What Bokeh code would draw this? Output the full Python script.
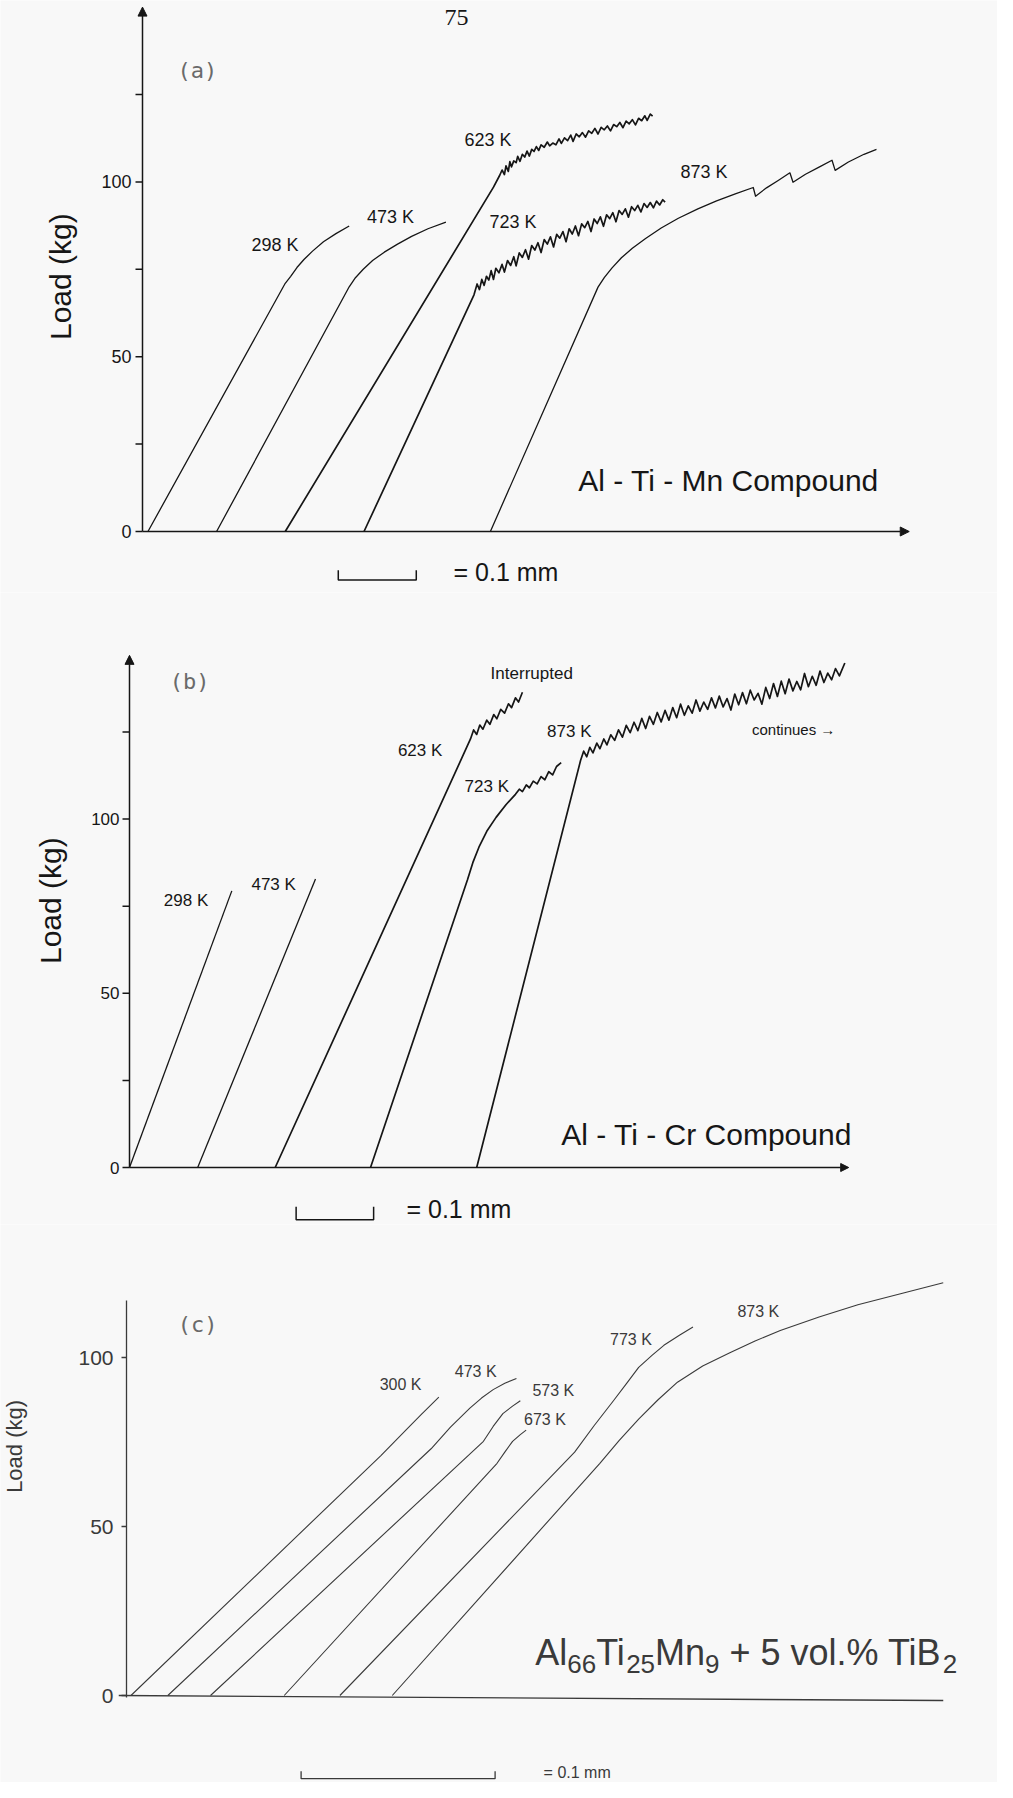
import numpy as np
from bokeh.plotting import figure
from bokeh.layouts import column
from bokeh.models import Range1d, Arrow, NormalHead
from bokeh.core.properties import value
from bokeh.embed import file_html
from bokeh.resources import INLINE

# ---------------- data: panel (a) Al-Ti-Mn compound  (displacement mm, load kg)
a298 = [(0.007, 0), (0.183, 71.0), (0.190, 73.0), (0.198, 75.5), (0.207, 77.8), (0.218, 80.2),
        (0.232, 82.9), (0.248, 85.2), (0.265, 87.4)]
a473 = [(0.095, 0), (0.265, 70.0), (0.273, 72.6), (0.283, 75.0), (0.295, 77.5), (0.310, 79.9),
        (0.327, 82.2), (0.345, 84.4), (0.366, 86.6), (0.389, 88.5)]
a623 = [(0.183, 0), (0.450, 98.5), (0.458, 101.9), (0.461, 103.4), (0.464, 102.1), (0.466, 104.6),
        (0.469, 103.0), (0.471, 105.8), (0.473, 104.3), (0.476, 106.0), (0.479, 105.5), (0.481, 107.3),
        (0.484, 105.9), (0.487, 107.9), (0.490, 107.1), (0.493, 108.8), (0.496, 107.4), (0.499, 109.3),
        (0.502, 108.7), (0.505, 110.1), (0.508, 109.0), (0.511, 110.6), (0.515, 109.9), (0.519, 111.4),
        (0.522, 110.3), (0.526, 111.1), (0.530, 110.6), (0.534, 112.3), (0.537, 111.0), (0.541, 112.6),
        (0.545, 111.8), (0.549, 113.4), (0.552, 111.6), (0.556, 113.7), (0.560, 112.9), (0.564, 114.1),
        (0.568, 112.8), (0.572, 114.6), (0.576, 113.9), (0.580, 115.3), (0.584, 113.7), (0.588, 115.6),
        (0.592, 114.9), (0.596, 116.0), (0.600, 114.6), (0.604, 116.4), (0.608, 115.8), (0.612, 117.0),
        (0.616, 115.5), (0.620, 117.4), (0.624, 116.6), (0.628, 117.8), (0.632, 116.3), (0.636, 118.2),
        (0.640, 117.5), (0.644, 118.9), (0.647, 117.6), (0.651, 119.4), (0.654, 118.8)]
a723 = [(0.284, 0), (0.425, 67.7), (0.429, 70.8), (0.432, 69.2), (0.435, 72.1), (0.438, 70.4),
        (0.441, 73.0), (0.444, 71.9), (0.447, 74.6), (0.450, 72.1), (0.453, 75.3), (0.457, 74.0),
        (0.461, 76.4), (0.464, 74.2), (0.468, 77.5), (0.472, 76.1), (0.476, 78.6), (0.479, 76.0),
        (0.483, 79.7), (0.487, 78.4), (0.491, 80.6), (0.495, 77.9), (0.499, 81.8), (0.503, 80.5),
        (0.507, 82.6), (0.511, 79.8), (0.515, 83.5), (0.519, 82.2), (0.523, 84.3), (0.527, 81.4),
        (0.531, 85.0), (0.535, 83.9), (0.539, 85.8), (0.543, 82.9), (0.547, 86.6), (0.551, 85.1),
        (0.555, 87.4), (0.559, 84.6), (0.563, 88.0), (0.567, 86.9), (0.571, 88.7), (0.575, 85.8),
        (0.579, 89.4), (0.583, 88.1), (0.587, 90.0), (0.591, 87.3), (0.595, 90.6), (0.599, 89.5),
        (0.603, 91.2), (0.607, 88.6), (0.611, 91.8), (0.615, 90.7), (0.619, 92.3), (0.623, 89.9),
        (0.627, 92.9), (0.631, 91.8), (0.635, 93.3), (0.639, 91.4), (0.643, 93.8), (0.647, 92.7),
        (0.651, 94.1), (0.655, 92.6), (0.659, 94.5), (0.663, 93.4), (0.667, 94.9), (0.670, 94.2)]
a873 = [(0.446, 0), (0.584, 69.9), (0.592, 72.6), (0.602, 75.4), (0.614, 78.3), (0.628, 81.0),
        (0.645, 83.8), (0.665, 86.8), (0.687, 89.6), (0.712, 92.3), (0.736, 94.6), (0.760, 96.6),
        (0.783, 98.4), (0.786, 95.9), (0.800, 98.3), (0.815, 100.4), (0.830, 102.6), (0.834, 99.9),
        (0.850, 102.2), (0.868, 104.3), (0.884, 106.2), (0.888, 103.3), (0.905, 105.7), (0.925, 107.9),
        (0.941, 109.3)]
a_curves = [a298, a473, a623, a723, a873]
a_thick = [False, False, True, True, False]
a_labels = ["298 K", "473 K", "623 K", "723 K", "873 K"]
a_label_x = [0.170, 0.318, 0.443, 0.475, 0.720]
a_label_y = [81.9, 90.1, 112.0, 88.5, 102.7]

# ---------------- data: panel (b) Al-Ti-Cr compound
b298 = [(0.0, 0), (0.132, 79.4)]
b473 = [(0.088, 0), (0.240, 82.8)]
b623 = [(0.188, 0), (0.440, 123.0), (0.444, 125.6), (0.448, 124.3), (0.452, 127.0), (0.456, 125.8),
        (0.461, 128.4), (0.465, 127.2), (0.470, 130.0), (0.474, 128.8), (0.479, 131.5), (0.484, 130.4),
        (0.489, 133.1), (0.493, 132.0), (0.498, 134.8), (0.502, 133.6), (0.507, 136.4)]
b723 = [(0.311, 0), (0.436, 82.5), (0.443, 87.5), (0.451, 92.0), (0.461, 96.5), (0.473, 100.5),
        (0.486, 104.2), (0.498, 107.1), (0.503, 108.6), (0.507, 107.9), (0.512, 109.8), (0.516, 109.0),
        (0.521, 110.9), (0.526, 110.1), (0.531, 112.2), (0.536, 111.3), (0.541, 113.6), (0.546, 112.7),
        (0.551, 115.1), (0.557, 116.2)]
b873 = [(0.448, 0), (0.582, 116.8), (0.586, 119.5), (0.590, 117.9), (0.594, 120.6), (0.598, 119.0),
        (0.603, 121.8), (0.607, 120.2), (0.612, 123.0), (0.616, 121.3), (0.621, 124.2), (0.626, 122.6),
        (0.631, 125.6), (0.636, 123.5), (0.641, 126.9), (0.646, 124.8), (0.651, 127.8), (0.656, 125.4),
        (0.661, 128.9), (0.666, 126.0), (0.671, 129.5), (0.676, 127.2), (0.681, 130.6), (0.686, 127.9),
        (0.691, 131.2), (0.696, 128.4), (0.701, 132.0), (0.706, 129.1), (0.711, 133.0), (0.716, 129.8),
        (0.721, 132.5), (0.726, 130.4), (0.731, 134.2), (0.736, 131.0), (0.741, 133.6), (0.746, 131.5),
        (0.751, 134.8), (0.756, 131.9), (0.761, 135.3), (0.766, 132.2), (0.771, 134.6), (0.776, 131.3),
        (0.781, 135.9), (0.786, 132.8), (0.791, 136.3), (0.796, 133.1), (0.801, 137.0), (0.806, 134.2),
        (0.811, 136.1), (0.816, 133.0), (0.821, 137.8), (0.826, 134.6), (0.831, 138.9), (0.836, 135.2),
        (0.841, 139.6), (0.846, 136.0), (0.851, 140.2), (0.856, 136.8), (0.861, 139.5), (0.866, 137.1),
        (0.871, 141.8), (0.876, 138.0), (0.881, 141.0), (0.886, 138.4), (0.891, 142.5), (0.896, 139.2),
        (0.901, 141.9), (0.906, 140.0), (0.911, 143.2), (0.916, 141.1), (0.923, 144.8)]
b_curves = [b298, b473, b623, b723, b873]
b_thick = [False, False, True, True, True]
b_labels = ["298 K", "473 K", "623 K", "723 K", "873 K", "Interrupted", "continues \u2192"]
b_label_x = [0.073, 0.186, 0.375, 0.461, 0.5675, 0.519, 0.857]
b_label_y = [76.5, 81.3, 119.6, 109.4, 125.1, 141.7, 125.6]

# ---------------- data: panel (c) Al66Ti25Mn9 + 5 vol.% TiB2
c300 = [(0.0023, 0), (0.131, 70.9), (0.144, 78.5), (0.152, 83.2), (0.161, 88.3)]
c473 = [(0.0213, 0), (0.157, 73.0), (0.167, 79.4), (0.177, 85.0), (0.183, 88.0), (0.189, 90.5),
        (0.195, 92.4), (0.201, 93.8)]
c573 = [(0.0433, 0), (0.184, 75.2), (0.189, 79.6), (0.194, 83.4), (0.199, 85.6), (0.203, 87.2)]
c673 = [(0.0813, 0), (0.191, 68.7), (0.195, 72.0), (0.199, 75.2), (0.203, 77.2), (0.206, 78.5)]
c773 = [(0.110, 0), (0.231, 72.0), (0.241, 79.8), (0.251, 87.2), (0.258, 92.5), (0.264, 97.1),
        (0.271, 100.7), (0.277, 103.6), (0.285, 106.6), (0.292, 109.0)]
c873 = [(0.137, 0), (0.244, 68.7), (0.254, 75.5), (0.264, 81.8), (0.274, 87.5), (0.284, 92.7),
        (0.297, 97.5), (0.311, 101.4), (0.324, 104.9), (0.337, 108.0), (0.357, 112.0), (0.377, 115.6),
        (0.400, 119.0), (0.421, 122.1)]
c_curves = [c300, c473, c573, c673, c773, c873]
c_labels = ["300 K", "473 K", "573 K", "673 K", "773 K", "873 K"]
c_label_x = [0.1413, 0.180, 0.220, 0.2157, 0.260, 0.3257]
c_label_y = [92.1, 96.0, 90.3, 81.6, 105.2, 113.6]
# composition label, split into normal / subscript pieces
c_title_parts = ["Al", "66", "Ti", "25", "Mn", "9", "\u00a0+ 5 vol.% TiB", "2"]
c_title_sub = [False, True, False, True, False, True, False, True]

tick_a = [0, 25, 50, 75, 100, 125]
tick_b = [0, 25, 50, 75, 100, 125]
tick_c = [0, 50, 100]
tick_labels = {0: "0", 50: "50", 100: "100"}
SCALE_MM = 0.1

# ---------------- styling
BG = "#f8f8f8"
INK = "#161616"
SANS = "Liberation Sans"
W = 997

# Liberation Sans (Arial-metric) advance widths, in em, for offsetting the composition pieces
ADV = {"A": 0.667, "l": 0.222, "T": 0.611, "i": 0.222, "M": 0.833, "n": 0.556, " ": 0.278,
       "\u00a0": 0.278, "+": 0.584, "v": 0.5, "o": 0.556, ".": 0.278, "%": 0.889, "B": 0.667}


def adv(s, size):
    return sum(ADV.get(ch, 0.556) for ch in s) * size


def make_panel(height, px_mm, px_kg, axis_px, zero_px):
    x0 = -axis_px / px_mm
    x1 = (W - axis_px) / px_mm
    y0 = -(height - zero_px) / px_kg
    y1 = zero_px / px_kg
    p = figure(width=W, height=height, x_range=Range1d(x0, x1), y_range=Range1d(y0, y1),
               x_axis_type=None, y_axis_type=None, toolbar_location=None,
               output_backend="svg", min_border=0, min_border_left=0, min_border_right=0,
               min_border_top=0, min_border_bottom=0,
               background_fill_color=BG, border_fill_color=BG, outline_line_color=None)
    return p


def txt(p, xs, ys, texts, size, color=INK, align="center", font=SANS, angle=0.0,
        baseline="middle", style="normal", x_offset=0):
    p.text(x=xs, y=ys, text=texts, text_font=value(font), text_font_size=size,
           text_color=color, text_align=align, text_baseline=baseline, angle=angle,
           text_font_style=style, x_offset=x_offset)


def y_axis(p, top, ticks, px_mm, tick_px, label_gap_px, size, color=INK, arrow=True, lw=1.5):
    if arrow:
        p.add_layout(Arrow(end=NormalHead(size=9, fill_color=color, line_color=color),
                           x_start=0, y_start=0, x_end=0, y_end=top,
                           line_color=color, line_width=lw))
    else:
        p.segment(x0=[0], y0=[-0.6], x1=[0], y1=[top], line_color=color, line_width=lw)
    tl = tick_px / px_mm
    p.segment(x0=[-tl] * len(ticks), y0=ticks, x1=[0] * len(ticks), y1=ticks,
              line_color=color, line_width=lw)
    lab_t = [t for t in ticks if t in tick_labels]
    txt(p, [-label_gap_px / px_mm] * len(lab_t), lab_t, [tick_labels[t] for t in lab_t],
        size, color=color, align="right")


def scale_bar(p, x_start, y_bottom, y_top, color=INK, lw=1.5):
    xs = [x_start, x_start, x_start + SCALE_MM, x_start + SCALE_MM]
    ys = [y_top, y_bottom, y_bottom, y_top]
    p.line(xs, ys, line_color=color, line_width=lw)


def draw_curves(p, curves, thick, color=INK, lw=1.3, lw_thick=1.7):
    for cur, th in zip(curves, thick):
        xs, ys = zip(*cur)
        p.line(list(xs), list(ys), line_color=color, line_width=lw_thick if th else lw,
               line_join="round")


# ================= panel (a)
PA = dict(px_mm=780.0, px_kg=3.496)
pa = make_panel(592, PA["px_mm"], PA["px_kg"], 142, 531)
draw_curves(pa, a_curves, a_thick)
y_axis(pa, 150.0, tick_a, PA["px_mm"], 7, 11, "18px")
pa.add_layout(Arrow(end=NormalHead(size=9, fill_color=INK, line_color=INK),
                    x_start=0, y_start=0, x_end=0.983, y_end=0, line_color=INK, line_width=1.6))
txt(pa, a_label_x, a_label_y, a_labels, "18px")
txt(pa, [0.4026], [147.0], ["75"], "24px", font="Liberation Serif")
txt(pa, [0.0705], [131.8], ["(a)"], "22px", color="#6a6a6a", font="DejaVu Sans Mono")
txt(pa, [-0.105], [72.9], ["Load (kg)"], "30px", angle=np.pi / 2)
txt(pa, [0.7566], [14.6], ["Al - Ti - Mn  Compound"], "30px")
scale_bar(pa, 0.251, -13.9, -11.1)
txt(pa, [0.466], [-11.7], ["= 0.1 mm"], "25px")

# ================= panel (b)
PB = dict(px_mm=775.0, px_kg=3.484)
pb = make_panel(632, PB["px_mm"], PB["px_kg"], 129, 575)
draw_curves(pb, b_curves, b_thick)
y_axis(pb, 147.0, tick_b, PB["px_mm"], 7, 10, "17px")
pb.add_layout(Arrow(end=NormalHead(size=8, fill_color=INK, line_color=INK),
                    x_start=0, y_start=0, x_end=0.928, y_end=0, line_color=INK, line_width=1.6))
txt(pb, b_label_x[:5], b_label_y[:5], b_labels[:5], "17px")
txt(pb, [b_label_x[5]], [b_label_y[5]], [b_labels[5]], "17px")
txt(pb, [b_label_x[6]], [b_label_y[6]], [b_labels[6]], "15px")
txt(pb, [0.0775], [139.5], ["(b)"], "22px", color="#6a6a6a", font="DejaVu Sans Mono")
txt(pb, [-0.102], [76.6], ["Load (kg)"], "30px", angle=np.pi / 2)
txt(pb, [0.750], [9.6], ["Al - Ti - Cr  Compound"], "30px")
scale_bar(pb, 0.215, -15.0, -11.3)
txt(pb, [0.425], [-11.9], ["= 0.1 mm"], "25px")

# ================= panel (c)
PC = dict(px_mm=1940.0, px_kg=3.38)
pc = make_panel(558, PC["px_mm"], PC["px_kg"], 126, 471)
CINK = "#3a3a3a"
draw_curves(pc, c_curves, [False] * 6, color=CINK, lw=1.1)
y_axis(pc, 116.9, tick_c, PC["px_mm"], 5, 13, "21px", color=CINK, arrow=False, lw=1.3)
pc.segment(x0=[-0.004], y0=[0], x1=[0.421], y1=[-1.5], line_color=CINK, line_width=1.4)
txt(pc, c_label_x, c_label_y, c_labels, "16px", color=CINK)
txt(pc, [0.0367], [109.9], ["(c)"], "22px", color="#6a6a6a", font="DejaVu Sans Mono")
txt(pc, [-0.0577], [73.7], ["Load (kg)"], "22px", color=CINK, angle=np.pi / 2)

# composition label with real subscripts
MAIN_PX, SUB_PX, SUB_DROP_PX = 36, 26, 11
base_x, base_y = 0.2107, 12.6
offs, cur = [], 0.0
for part, sub in zip(c_title_parts, c_title_sub):
    offs.append(cur)
    cur += adv(part, SUB_PX if sub else MAIN_PX)
for part, sub, off in zip(c_title_parts, c_title_sub, offs):
    y = base_y - (SUB_DROP_PX / PC["px_kg"] if sub else 0.0)
    txt(pc, [base_x], [y], [part], f"{SUB_PX if sub else MAIN_PX}px", color=CINK,
        align="left", baseline="alphabetic", x_offset=off)

scale_bar(pc, 0.090, -24.6, -22.4, color=CINK, lw=1.3)
txt(pc, [0.2323], [-22.9], ["= 0.1 mm"], "16px", color=CINK)

layout = column(pa, pb, pc, spacing=0)
open("out.html", "w").write(file_html(layout, INLINE))
